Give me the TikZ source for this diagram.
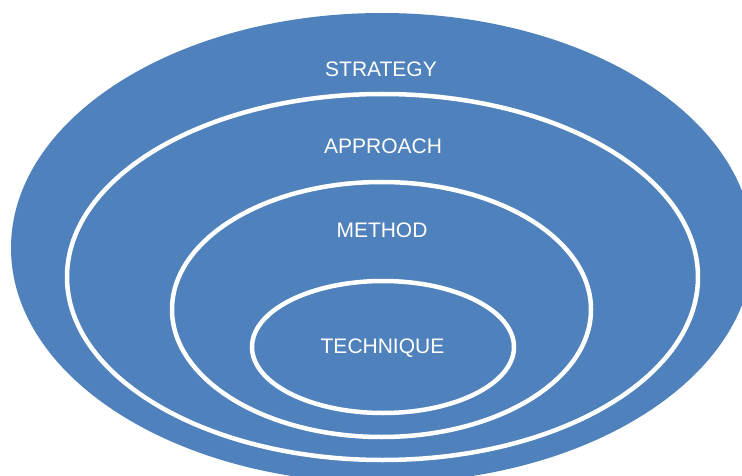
\documentclass[tikz,border=0pt]{standalone}
\usepackage{fontspec}
\setmainfont{Liberation Sans}
\definecolor{ringblue}{RGB}{79,129,189}
\begin{document}
\begin{tikzpicture}[x=1pt,y=-1pt,
    ring/.style={draw=white,line width=4.5pt},
    lbl/.style={text=white,anchor=base,inner sep=0pt,font=\fontsize{21}{25}\selectfont}]
    \clip(0,0)rectangle(742,476);
    \fill[ringblue](382,248)ellipse(371 and 235);
    \draw[ring](382.5,277)ellipse(315.5 and 183);
    \draw[ring](381.5,309.5)ellipse(209.5 and 127.5);
    \draw[ring](383,347)ellipse(131 and 66);
    \node[lbl](strategy) at (381,77){STRATEGY};
    \node[lbl](approach) at (383,154){APPROACH};
    \node[lbl](method) at (382,237){METHOD};
    \node[lbl](technique) at (382.5,353){TECHNIQUE};
\end{tikzpicture}
\end{document}
